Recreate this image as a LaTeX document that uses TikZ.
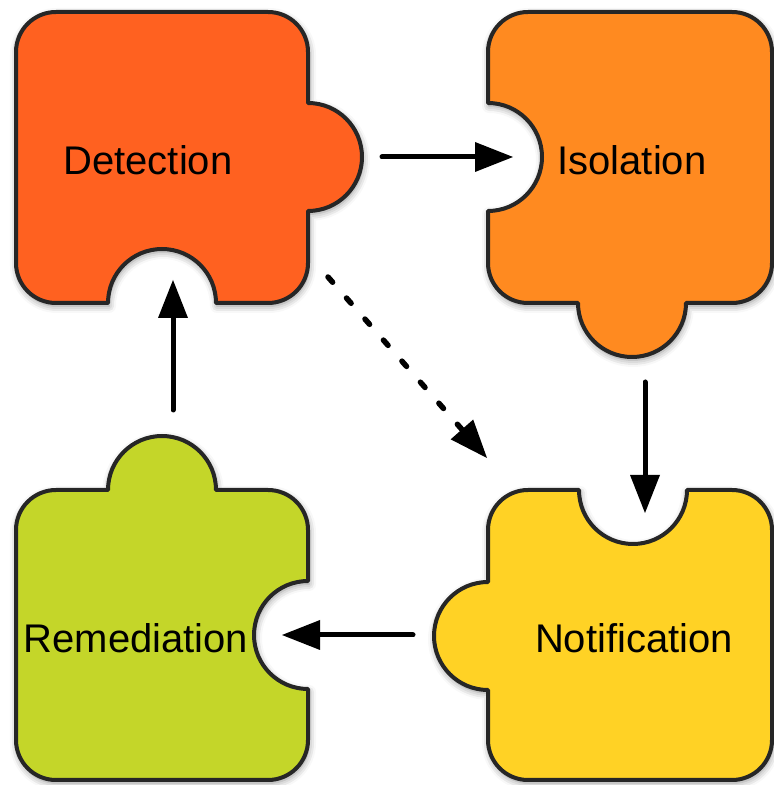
\documentclass[tikz,border=0pt]{standalone}
\usepackage{fontspec}
\setmainfont{Liberation Sans}
\usetikzlibrary{arrows.meta,shadows.blur}
\definecolor{detcol}{RGB}{255,97,32}
\definecolor{isocol}{RGB}{255,138,32}
\definecolor{noticol}{RGB}{255,210,37}
\definecolor{remcol}{RGB}{196,214,41}
\definecolor{edgecol}{RGB}{38,38,38}
\tikzstyle{piece}=[draw=edgecol,line width=4pt,line join=round,
  blur shadow={shadow xshift=1pt,shadow yshift=-3pt,shadow blur radius=7pt,shadow opacity=45}]
\tikzstyle{label}=[font=\fontsize{40}{48}\selectfont,inner sep=0pt]
\tikzstyle{flow}=[draw=black,line width=5pt,line cap=round,
  -{Triangle[length=38pt,width=30pt,fill=black,line width=0pt]}]

\begin{document}
\begin{tikzpicture}[x=1pt,y=1pt]
    \useasboundingbox (0,0) rectangle (774,785);
    % pieces
    \path[piece,fill=detcol] (16,733) arc[start angle=180,end angle=90,radius=40] -- (268,773)
      arc[start angle=90,end angle=0,radius=40] -- (308,682)
      arc[start angle=90,end angle=-90,radius=54] -- (308,522)
      arc[start angle=0,end angle=-90,radius=40] -- (216,482)
      arc[start angle=0,end angle=180,radius=54] -- (56,482)
      arc[start angle=270,end angle=180,radius=40] -- cycle;
    \path[piece,fill=isocol] (488,733) arc[start angle=180,end angle=90,radius=40] -- (732,773)
      arc[start angle=90,end angle=0,radius=40] -- (772,522)
      arc[start angle=0,end angle=-90,radius=40] -- (686,482)
      arc[start angle=0,end angle=-180,radius=54] -- (528,482)
      arc[start angle=270,end angle=180,radius=40] -- (488,574)
      arc[start angle=-90,end angle=90,radius=54] -- cycle;
    \path[piece,fill=remcol] (16,255) arc[start angle=180,end angle=90,radius=40] -- (108,295)
      arc[start angle=180,end angle=0,radius=54] -- (268,295)
      arc[start angle=90,end angle=0,radius=40] -- (308,204)
      arc[start angle=90,end angle=270,radius=54] -- (308,45)
      arc[start angle=0,end angle=-90,radius=40] -- (56,5)
      arc[start angle=270,end angle=180,radius=40] -- cycle;
    \path[piece,fill=noticol] (488,255) arc[start angle=180,end angle=90,radius=40] -- (579,295)
      arc[start angle=180,end angle=360,radius=54] -- (732,295)
      arc[start angle=90,end angle=0,radius=40] -- (772,45)
      arc[start angle=0,end angle=-90,radius=40] -- (528,5)
      arc[start angle=270,end angle=180,radius=40] -- (488,95)
      arc[start angle=-90,end angle=-270,radius=54] -- cycle;

    \node[label] (det)  at (148,625) {Detection};
    \node[label] (iso)  at (632,625) {Isolation};
    \node[label] (rem)  at (136,147) {Remediation};
    \node[label] (noti) at (634,147) {Notification};

    % arrow ends
    \coordinate (det-out)  at (382,628);
    \coordinate (iso-in)   at (513,628);
    \coordinate (iso-out)  at (645,403);
    \coordinate (noti-in)  at (645,272);
    \coordinate (noti-out) at (413,150);
    \coordinate (rem-in)   at (282,150);
    \coordinate (rem-out)  at (173,375);
    \coordinate (det-in)   at (173,505);
    \coordinate (det-skip) at (328,508);
    \coordinate (noti-skip) at (487,327);

    \foreach \from/\to in {det-out/iso-in,iso-out/noti-in,noti-out/rem-in,rem-out/det-in}
    \draw[flow] (\from) -- (\to);
    \draw[flow,line width=5.5pt,dash pattern=on 7pt off 21pt] (det-skip) -- (noti-skip);
\end{tikzpicture}
\end{document}
